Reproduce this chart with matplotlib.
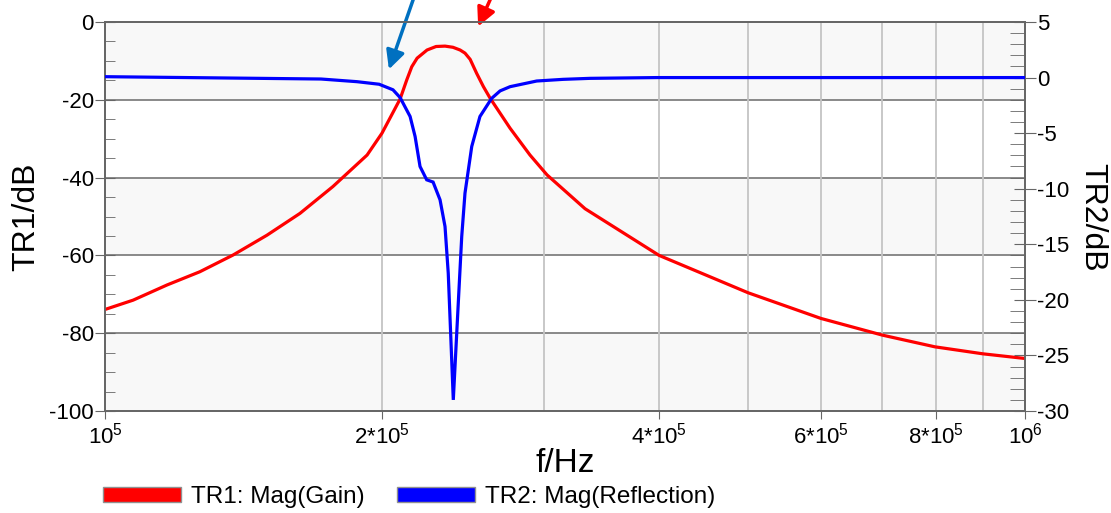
import numpy as np
import matplotlib
matplotlib.use('Agg')
import matplotlib.pyplot as plt
from matplotlib.ticker import FixedLocator, MultipleLocator, NullFormatter
from matplotlib.patches import Patch

plt.rcParams['font.family'] = ['Liberation Sans', 'DejaVu Sans']
plt.rcParams['mathtext.fontset'] = 'custom'
plt.rcParams['mathtext.rm'] = 'Liberation Sans'
plt.rcParams['mathtext.it'] = 'Liberation Sans'
plt.rcParams['axes.unicode_minus'] = False

# TR1: Mag(Gain) [dB], left axis
f_gain = [1.000e5, 1.073e5, 1.168e5, 1.268e5, 1.378e5, 1.500e5, 1.629e5, 1.769e5,
          1.927e5, 2.000e5, 2.093e5, 2.128e5, 2.155e5, 2.184e5, 2.239e5, 2.290e5,
          2.342e5, 2.389e5, 2.432e5, 2.462e5, 2.494e5, 2.535e5, 2.578e5, 2.622e5,
          2.756e5, 2.897e5, 3.023e5, 3.325e5, 4.002e5, 5.000e5, 6.000e5, 7.000e5,
          7.980e5, 9.000e5, 1.000e6]
gain_db = [-73.9, -71.5, -67.6, -64.2, -59.9, -54.8, -49.2, -42.3,
           -34.2, -28.6, -19.8, -14.9, -11.5, -9.3, -7.2, -6.3,
           -6.2, -6.5, -7.2, -8.0, -9.6, -13.2, -16.6, -19.6,
           -27.3, -34.2, -39.3, -48.0, -60.0, -69.6, -76.2, -80.5,
           -83.5, -85.3, -86.5]

# TR2: Mag(Reflection) [dB], right axis
f_refl = [1.000e5, 1.717e5, 1.879e5, 1.986e5, 2.056e5, 2.093e5, 2.146e5, 2.173e5,
          2.200e5, 2.237e5, 2.273e5, 2.313e5, 2.342e5, 2.361e5, 2.391e5, 2.421e5,
          2.442e5, 2.462e5, 2.504e5, 2.556e5, 2.632e5, 2.688e5, 2.756e5, 2.946e5,
          3.147e5, 3.366e5, 3.981e5, 1.000e6]
refl_db = [0.08, -0.13, -0.37, -0.6, -1.1, -1.8, -3.5, -5.3,
           -8.0, -9.2, -9.4, -11.0, -13.4, -17.6, -29.0, -20.3,
           -14.3, -10.4, -6.2, -3.5, -1.87, -1.2, -0.82, -0.31,
           -0.16, -0.07, 0.0, 0.0]

xticks = [1e5, 2e5, 4e5, 6e5, 8e5, 1e6]
xticklabels = [r'$\mathregular{10^5}$', r'$\mathregular{2{*}10^5}$', r'$\mathregular{4{*}10^5}$',
               r'$\mathregular{6{*}10^5}$', r'$\mathregular{8{*}10^5}$', r'$\mathregular{10^6}$']
xgrid = [2e5, 3e5, 4e5, 5e5, 6e5, 7e5, 8e5, 9e5]

W, H = 1111, 513
fig = plt.figure(figsize=(W / 100, H / 100), dpi=100)
ax = fig.add_axes([105 / W, 1 - 411 / H, 920 / W, 389 / H])
ax2 = ax.twinx()
ax2.patch.set_visible(False)

gcol = '#666666'
for lo in [0, -40, -80]:
    ax.axhspan(lo - 20, lo, color='#f8f8f8', zorder=0, lw=0)
for yv in [-20, -40, -60, -80]:
    ax.axhline(yv, color='#808080', lw=1.3, zorder=1)
for xv in xgrid:
    ax.axvline(xv, color='#c4c4c4', lw=1.3, zorder=1)

ax.plot(f_gain, gain_db, color='#ff0000', lw=2.3, zorder=3)
ax2.plot(f_refl, refl_db, color='#0000ff', lw=2.3, solid_joinstyle='miter', zorder=3)

ax.set_xscale('log')
ax.set_xlim(1e5, 1e6)
ax.set_ylim(-100, 0)
ax2.set_ylim(-30, 5)

ax.xaxis.set_major_locator(FixedLocator(xticks))
ax.set_xticklabels(xticklabels)
ax.xaxis.set_minor_locator(FixedLocator([]))
ax.xaxis.set_minor_formatter(NullFormatter())
ax.tick_params(axis='x', which='major', direction='out', length=6, color=gcol, labelsize=16, pad=2)

ax.yaxis.set_major_locator(MultipleLocator(20))
ax.yaxis.set_minor_locator(MultipleLocator(5))
ax.tick_params(axis='y', which='major', direction='inout', length=14, color=gcol, labelsize=16, pad=1)
ax.tick_params(axis='y', which='minor', direction='in', length=7, color=gcol)

ax2.yaxis.set_major_locator(MultipleLocator(5))
ax2.yaxis.set_minor_locator(MultipleLocator(1))
ax2.tick_params(axis='y', which='major', direction='inout', length=16, color=gcol, labelsize=16, pad=1)
ax2.tick_params(axis='y', which='minor', direction='in', length=11, color=gcol)

for a in (ax, ax2):
    for s in a.spines.values():
        s.set_color(gcol)
        s.set_linewidth(1.3)

fig.text(26 / W, 1 - 217 / H, 'TR1/dB', rotation=90, ha='center', va='center', fontsize=23)
fig.text(1092 / W, 1 - 217 / H, 'TR2/dB', rotation=270, ha='center', va='center', fontsize=23)
fig.text(565 / W, 1 - 463 / H, 'f/Hz', ha='center', va='center', fontsize=24)

handles = [Patch(facecolor='#ff0000', edgecolor='#909090', label='TR1: Mag(Gain)'),
           Patch(facecolor='#0000ff', edgecolor='#909090', label='TR2: Mag(Reflection)')]
fig.legend(handles=handles, loc='center left', bbox_to_anchor=(103 / W, 16 / H), ncol=2,
           frameon=False, fontsize=17.5, handlelength=3.2, handleheight=0.55,
           handletextpad=0.42, columnspacing=1.35, borderpad=0, borderaxespad=0)

# arrows coming from the (cropped) annotation text above the chart
ax.annotate('', xy=(388, H - 72), xycoords='figure pixels',
            xytext=(420, H + 20), textcoords='figure pixels',
            arrowprops=dict(arrowstyle='-|>', color='#0070c0', lw=2.5, mutation_scale=28),
            annotation_clip=False)
ax.annotate('', xy=(477, H - 29), xycoords='figure pixels',
            xytext=(499, H + 20), textcoords='figure pixels',
            arrowprops=dict(arrowstyle='-|>', color='#ff0000', lw=2.5, mutation_scale=28),
            annotation_clip=False)

fig.savefig('out.png', dpi=100)
